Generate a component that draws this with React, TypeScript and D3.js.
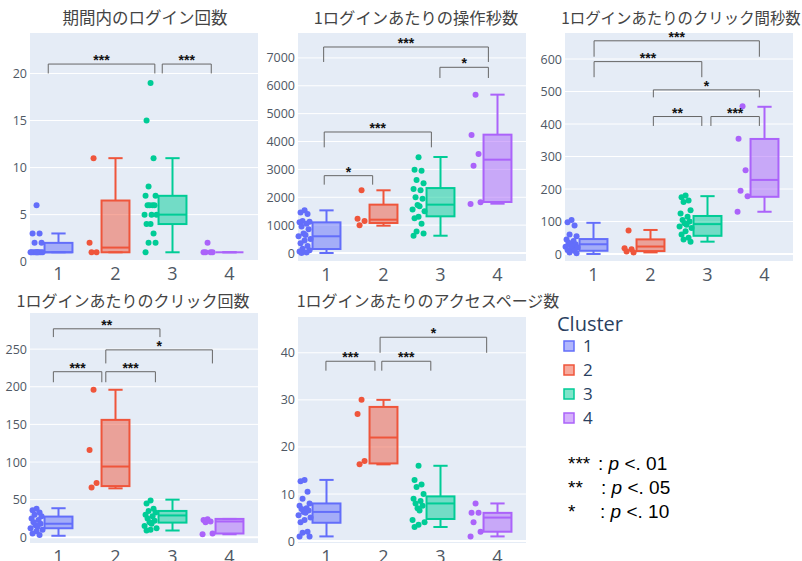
import React from "react";
import * as d3 from "d3";

// Cluster categories and their colours
const CLUSTERS = ["1", "2", "3", "4"];
const COLORS = ["#636efa", "#ef553b", "#00cc96", "#ab63fa"];

// Box stats per cluster: [lower whisker, q1, median, q3, upper whisker]
// 期間内のログイン回数
const loginPoints = [
  [6, 3, 3, 2, 2, 1, 1, 1, 1, 1, 1, 1, 1, 1],
  [11, 2, 1, 1],
  [19, 15, 11, 8, 7, 7, 6, 6, 6, 6, 5, 5, 5, 4, 4, 3, 2, 2, 1],
  [2, 1, 1, 1, 1],
];
const loginBoxes = [
  [1, 1, 1, 2, 3],
  [1, 1, 1.5, 6.5, 11],
  [1, 4, 5, 7, 11],
  [1, 1, 1, 1, 1],
];
const loginTicks = [0, 5, 10, 15, 20];
const loginBrackets = [
  { from: 0.82, to: 2.69, low: 20, high: 21, label: "***" },
  { from: 2.82, to: 3.68, low: 20, high: 21, label: "***" },
];

// 1ログインあたりの操作秒数
const opSecPoints = [
  [1530, 1450, 1400, 1150, 1120, 1100, 1050, 950, 850, 700, 650, 600, 500, 450, 350, 250, 150, 100, 50, 20, 0],
  [2250, 1230, 1150, 1000],
  [3440, 2990, 2950, 2620, 2500, 2300, 2250, 2000, 1950, 1720, 1680, 1560, 1500, 1300, 1250, 1050, 770, 700, 620],
  [5680, 4230, 3550, 3130, 1820, 1760],
];
const opSecBoxes = [
  [0, 143, 600, 1100, 1530],
  [980, 1077, 1196, 1735, 2250],
  [620, 1316, 1735, 2330, 3445],
  [1770, 1830, 3349, 4246, 5682],
];
const opSecTicks = [0, 1000, 2000, 3000, 4000, 5000, 6000, 7000];
const opSecBrackets = [
  { from: 0.96, to: 1.81, low: 2452, high: 2775, label: "*" },
  { from: 0.96, to: 2.84, low: 3792, high: 4342, label: "***" },
  { from: 2.99, to: 3.84, low: 6280, high: 6663, label: "*" },
  { from: 0.95, to: 3.84, low: 6854, high: 7392, label: "***" },
];

// 1ログインあたりのクリック間秒数
const intervalPoints = [
  [105, 98, 88, 60, 55, 45, 40, 35, 30, 28, 25, 22, 20, 15, 12, 10, 5, 2],
  [72, 18, 15, 8, 5],
  [180, 175, 165, 160, 135, 125, 115, 105, 100, 95, 90, 85, 80, 70, 60, 50, 45, 38],
  [455, 355, 258, 195, 178, 130],
];
const intervalBoxes = [
  [0, 10, 30, 46, 96],
  [5, 9, 23, 45, 74],
  [38, 56, 92, 117, 178],
  [130, 176, 228, 354, 453],
];
const intervalTicks = [0, 100, 200, 300, 400, 500, 600];
const intervalBrackets = [
  { from: 1.01, to: 3.91, low: 607, high: 656, label: "***" },
  { from: 1.01, to: 2.9, low: 544, high: 592, label: "***" },
  { from: 2.05, to: 3.91, low: 482, high: 505, label: "*" },
  { from: 2.05, to: 2.9, low: 394, high: 423, label: "**" },
  { from: 3.06, to: 3.91, low: 394, high: 423, label: "***" },
];

// 1ログインあたりのクリック回数
const clickPoints = [
  [38, 36, 33, 30, 28, 25, 23, 20, 18, 16, 14, 12, 10, 8, 5, 3],
  [196, 116, 72, 66],
  [49, 45, 38, 35, 33, 30, 28, 25, 22, 20, 18, 15, 12, 10, 9],
  [24, 23, 21, 20, 5, 4],
];
const clickBoxes = [
  [2, 12, 18, 27.5, 38.6],
  [65, 68, 94, 156, 196],
  [9, 19.5, 29, 35, 50],
  [4, 5, 21, 24.4, 24.4],
];
const clickTicks = [0, 50, 100, 150, 200, 250];
const clickBrackets = [
  { from: 0.91, to: 2.78, low: 266, high: 277, label: "**" },
  { from: 1.83, to: 3.7, low: 231, high: 249, label: "*" },
  { from: 0.91, to: 1.76, low: 206, high: 220, label: "***" },
  { from: 1.83, to: 2.7, low: 206, high: 220, label: "***" },
];

// 1ログインあたりのアクセスページ数
const pagePoints = [
  [13, 12.7, 10.5, 9, 8, 7.5, 7, 6.8, 6.5, 6.2, 6, 5.5, 5, 4.5, 4, 2, 1.8, 1, 1],
  [30, 27, 17, 16.3],
  [16, 13, 12, 11.5, 10, 9, 8.5, 8, 7.5, 7, 6.5, 4.5, 4, 3.5, 3],
  [8, 6, 6, 4, 2, 1],
];
const pageBoxes = [
  [1, 3.9, 6.2, 8, 13],
  [16.3, 16.5, 22, 28.5, 30],
  [3, 4.7, 8, 9.5, 16],
  [1, 2, 5, 6, 8],
];
const pageTicks = [0, 10, 20, 30, 40];
const pageBrackets = [
  { from: 1.94, to: 3.81, low: 40, high: 43.3, label: "*" },
  { from: 0.99, to: 1.85, low: 36.2, high: 38.2, label: "***" },
  { from: 1.97, to: 2.83, low: 36.2, high: 38.2, label: "***" },
];

const significanceNotes = [
  { stars: "***", p: "01" },
  { stars: "**", p: "05" },
  { stars: "*", p: "10" },
];

// Horizontal spread of the sample points within their strip
const JITTER = [0, -4, 3, -2, 5, -5, 2, -3, 4, -1, 1, -6, 6];

type Bracket = { from: number; to: number; low: number; high: number; label: string };
type PanelSpec = {
  title: string;
  titleX: number;
  titleY: number;
  titleSize: number;
  x0: number;
  x1: number;
  top: number;
  bottom: number;
  yDomain: [number, number];
  ticks: number[];
  points: number[][];
  boxes: number[][];
  brackets: Bracket[];
};

const panels: PanelSpec[] = [
  { title: "期間内のログイン回数", titleX: 145, titleY: 23.5, titleSize: 16.5, x0: 30, x1: 258, top: 33, bottom: 260,
    yDomain: [0.18, 24.3], ticks: loginTicks, points: loginPoints, boxes: loginBoxes, brackets: loginBrackets },
  { title: "1ログインあたりの操作秒数", titleX: 416, titleY: 23.5, titleSize: 16.3, x0: 298, x1: 526, top: 33, bottom: 261,
    yDomain: [-287, 7894], ticks: opSecTicks, points: opSecPoints, boxes: opSecBoxes, brackets: opSecBrackets },
  { title: "1ログインあたりのクリック間秒数", titleX: 681, titleY: 23.5, titleSize: 15.4, x0: 565, x1: 793, top: 33, bottom: 261,
    yDomain: [-21.5, 680], ticks: intervalTicks, points: intervalPoints, boxes: intervalBoxes, brackets: intervalBrackets },
  { title: "1ログインあたりのクリック回数", titleX: 133, titleY: 306.5, titleSize: 16, x0: 30, x1: 258, top: 313, bottom: 543,
    yDomain: [-7.6, 298], ticks: clickTicks, points: clickPoints, boxes: clickBoxes, brackets: clickBrackets },
  { title: "1ログインあたりのアクセスページ数", titleX: 428, titleY: 307, titleSize: 16, x0: 298, x1: 526, top: 317, bottom: 543,
    yDomain: [-0.4, 47.6], ticks: pageTicks, points: pagePoints, boxes: pageBoxes, brackets: pageBrackets },
];

const TICK_COLOR = "#4f5864";
const LEGEND_COLOR = "#2a3f5f";
const SANS = "'Open Sans', 'Liberation Sans', Arial, sans-serif";
const CJK = "'Noto Sans CJK JP', 'Noto Sans', sans-serif";

function Panel({ spec }: { spec: PanelSpec }) {
  const x = d3.scaleBand<string>().domain(CLUSTERS).range([spec.x0, spec.x1]).padding(0);
  const bw = x.bandwidth();
  const y = d3.scaleLinear().domain(spec.yDomain).range([spec.bottom, spec.top]);
  const pos = (v: number) => spec.x0 + (v - 0.5) * bw;
  const boxW = bw * 0.49;
  const capW = bw * 0.25;
  const ptOffset = -bw * 0.385;
  const [d0, d1] = spec.yDomain;

  return (
    <g>
      <text x={spec.titleX} y={spec.titleY} textAnchor="middle" fontFamily={CJK} fontSize={spec.titleSize} fill="#444">
        {spec.title}
      </text>
      <rect x={spec.x0} y={spec.top} width={spec.x1 - spec.x0} height={spec.bottom - spec.top} fill="#e5ecf6" />
      {spec.ticks.map((t) => {
        const inside = t >= d0 && t <= d1;
        return (
          <g key={t}>
            {inside && (
              <line x1={spec.x0} x2={spec.x1} y1={y(t)} y2={y(t)} stroke="#fff" strokeWidth={t === 0 ? 2 : 1} />
            )}
            <text x={spec.x0 - 3} y={y(t)} dy="0.36em" textAnchor="end" fontFamily={SANS} fontSize={12.5} fill={TICK_COLOR}>
              {t}
            </text>
          </g>
        );
      })}
      {CLUSTERS.map((c) => (
        <text key={c} x={(x(c) ?? 0) + bw / 2} y={spec.bottom + 20} textAnchor="middle" fontFamily={SANS} fontSize={18} fill={TICK_COLOR}>
          {c}
        </text>
      ))}
      {CLUSTERS.map((c, ci) => {
        const cx = (x(c) ?? 0) + bw / 2;
        const [lo, q1, med, q3, hi] = spec.boxes[ci];
        const color = COLORS[ci];
        return (
          <g key={c}>
            <line x1={cx} x2={cx} y1={y(q3)} y2={y(hi)} stroke={color} strokeWidth={2} />
            <line x1={cx} x2={cx} y1={y(q1)} y2={y(lo)} stroke={color} strokeWidth={2} />
            <line x1={cx - capW / 2} x2={cx + capW / 2} y1={y(hi)} y2={y(hi)} stroke={color} strokeWidth={2} />
            <line x1={cx - capW / 2} x2={cx + capW / 2} y1={y(lo)} y2={y(lo)} stroke={color} strokeWidth={2} />
            <rect x={cx - boxW / 2} y={y(q3)} width={boxW} height={Math.max(0, y(q1) - y(q3))}
              fill={color} fillOpacity={0.5} stroke={color} strokeWidth={2} />
            <line x1={cx - boxW / 2} x2={cx + boxW / 2} y1={y(med)} y2={y(med)} stroke={color} strokeWidth={2} />
            {spec.points[ci].map((v, i) => (
              <circle key={i} cx={cx + ptOffset + JITTER[i % JITTER.length]} cy={y(v)} r={3} fill={color} />
            ))}
          </g>
        );
      })}
      {spec.brackets.map((b, i) => {
        const xa = pos(b.from);
        const xb = pos(b.to);
        const path = `M${xa},${y(b.low)}V${y(b.high)}H${xb}V${y(b.low)}`;
        return (
          <g key={i}>
            <path d={path} fill="none" stroke="#666" strokeWidth={1} />
            <text x={(xa + xb) / 2} y={y(b.high) + 1} textAnchor="middle" fontFamily="'Liberation Sans', Arial, sans-serif"
              fontWeight="bold" fontSize={14} fill="#111">
              {b.label}
            </text>
          </g>
        );
      })}
    </g>
  );
}

export default function App() {
  return (
    <svg width={802} height={561} style={{ position: "absolute", left: 0, top: 0, background: "#fff" }}>
      <rect width={802} height={561} fill="#fff" />
      {panels.map((p, i) => (
        <Panel key={i} spec={p} />
      ))}
      <text x={557} y={331} fontFamily={SANS} fontSize={20} fill={LEGEND_COLOR}>
        Cluster
      </text>
      {CLUSTERS.map((c, i) => (
        <g key={c}>
          <rect x={564} y={341 + i * 24} width={10} height={10} fill={COLORS[i]} fillOpacity={0.5} stroke={COLORS[i]} strokeWidth={1.5} />
          <text x={583} y={352 + i * 24} fontFamily={SANS} fontSize={17} fill={LEGEND_COLOR}>
            {c}
          </text>
        </g>
      ))}
      {significanceNotes.map((n, i) => (
        <g key={n.stars} fontFamily="'Liberation Sans', Arial, sans-serif" fontSize={19} fill="#000">
          <text x={568} y={470 + i * 24}>{n.stars}</text>
          <text x={[598, 601, 600][i]} y={470 + i * 24}>
            {": "}
            <tspan fontStyle="italic">p</tspan>
            {" <. "}
            {n.p}
          </text>
        </g>
      ))}
    </svg>
  );
}
